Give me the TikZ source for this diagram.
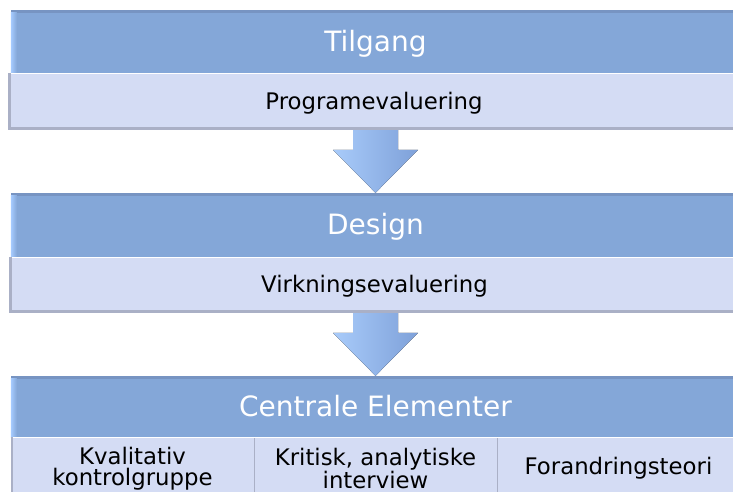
\documentclass[tikz,border=0pt]{standalone}
\usepackage{fontspec}
\setmainfont{DejaVu Sans}
\usetikzlibrary{calc}
\definecolor{hdrblue}{HTML}{84A7D8}
\definecolor{hdrtop}{HTML}{7794C2}
\definecolor{hdrlight}{HTML}{A6CBFF}
\definecolor{boxfill}{HTML}{D4DCF4}
\definecolor{boxedge}{HTML}{AAB0C6}
\definecolor{arrlight}{HTML}{A9CBFA}
\definecolor{arrdark}{HTML}{7EA1D9}
\tikzset{
  hdr/.style={fill=hdrblue, inner sep=0pt, minimum width=729pt, text=white,
    font=\fontsize{28}{28}\selectfont, text height=24pt, text depth=5pt},
  sub/.style={fill=boxfill, inner sep=0pt, text=black,
    font=\fontsize{22.8}{22.8}\selectfont, text height=18pt, text depth=3pt},
  cell/.style={fill=boxfill, inner sep=0pt, minimum width=243pt, minimum height=62pt,
    text=black, align=center, font=\fontsize{22.8}{21.5}\selectfont},
  arr/.style={left color=arrlight, right color=arrdark}
}
\begin{document}
\begin{tikzpicture}[x=1pt,y=-1pt]
\useasboundingbox (0,0) rectangle (733,491);
\fill[white] (0,0) rectangle (733,491);

% ---- headers and sub boxes
\node[hdr, minimum height=63pt] (h1) at (375.5,41.5) {Tilgang};
\node[sub, minimum width=732pt, minimum height=57pt] (s1) at (374,101.5) {Programevaluering};
\node[hdr, minimum height=64pt] (h2) at (375.5,225) {Design};
\node[sub, minimum width=731pt, minimum height=56pt] (s2) at (374.5,285) {Virkningsevaluering};
\node[hdr, minimum height=61pt] (h3) at (375.5,406.5) {Centrale Elementer};
\node[cell] (c1) at (132.5,468.5) {Kvalitativ\\kontrolgruppe};
\node[cell] (c2) at (375.5,468.5) {Kritisk, analytiske\\interview};
\node[cell] (c3) at (618.5,468.5) {Forandringsteori};

% ---- bevels on headers
\foreach \h in {h1,h2,h3}{
  \fill[hdrtop] (\h.north west) rectangle ($(\h.north east)+(0,3)$);
  \fill[left color=hdrlight, right color=hdrblue] ($(\h.north west)+(0,3)$) rectangle ($(\h.south west)+(6,0)$);
}
% ---- edges on sub boxes
\foreach \s in {s1,s2}{
  \fill[boxedge] (\s.north west) rectangle ($(\s.south west)+(3,0)$);
  \fill[boxedge] ($(\s.south west)+(0,-3)$) rectangle (\s.south east);
  \draw[white, line width=1.5pt] ($(\s.north west)+(3,0.75)$) -- ($(\s.north east)+(0,0.75)$);
}
\fill[boxedge] (c1.north west) rectangle ($(c1.south west)+(2,0)$);
\draw[boxedge, line width=1pt] (c1.north east) -- (c1.south east);
\draw[boxedge, line width=1pt] (c2.north east) -- (c2.south east);
\draw[white, line width=1pt] ($(c1.north west)+(2,0.5)$) -- ($(c3.north east)+(0,0.5)$);

% ---- block arrows
\fill[arr] ($(h2.north |- s1.south)+(-22.5,0)$) -- ($(h2.north |- s1.south)+(22.5,0)$)
  -- ($(h2.north)+(22.5,-43)$) -- ($(h2.north)+(42.5,-43)$) -- (h2.north)
  -- ($(h2.north)+(-42.5,-43)$) -- ($(h2.north)+(-22.5,-43)$) -- cycle;
\fill[arr] ($(h3.north |- s2.south)+(-22.5,0)$) -- ($(h3.north |- s2.south)+(22.5,0)$)
  -- ($(h3.north)+(22.5,-43)$) -- ($(h3.north)+(42.5,-43)$) -- (h3.north)
  -- ($(h3.north)+(-42.5,-43)$) -- ($(h3.north)+(-22.5,-43)$) -- cycle;
\end{tikzpicture}
\end{document}
